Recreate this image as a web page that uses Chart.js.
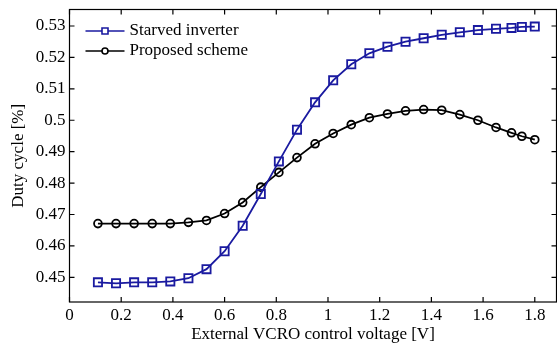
<!DOCTYPE html>
<html lang="en">
<head>
<meta charset="UTF-8">
<title>Duty cycle vs VCRO control voltage</title>
<script src="https://cdn.jsdelivr.net/npm/chart.js"></script>
<style>
  html, body { margin: 0; padding: 0; background: #fff; }
  #wrap { width: 557px; height: 346px; }
</style>
</head>
<body>
<div id="wrap"><canvas id="myChart" width="557" height="346"></canvas></div>
<script>
    // control voltage [V]
    var xVals = [0.11, 0.18, 0.25, 0.32, 0.39, 0.46, 0.53, 0.60, 0.67, 0.74, 0.81, 0.88, 0.95,
                 1.02, 1.09, 1.16, 1.23, 1.30, 1.37, 1.44, 1.51, 1.58, 1.65, 1.71, 1.75, 1.80];

    var starved = [0.4484, 0.4481, 0.4484, 0.4484, 0.4487, 0.4497, 0.4526, 0.4583, 0.4664, 0.4765,
                   0.4869, 0.4970, 0.5057, 0.5127, 0.5178, 0.5213, 0.5234, 0.5250, 0.5261, 0.5272,
                   0.5280, 0.5287, 0.5291, 0.5294, 0.5297, 0.5298];

    var proposed = [0.4671, 0.4671, 0.4671, 0.4671, 0.4671, 0.4675, 0.4681, 0.4703, 0.4738, 0.4787,
                    0.4834, 0.4881, 0.4925, 0.4958, 0.4986, 0.5008, 0.5020, 0.5030, 0.5034, 0.5032,
                    0.5018, 0.5000, 0.4977, 0.4960, 0.4949, 0.4938];

    var seriesNames = ['Starved inverter', 'Proposed scheme'];

    var BLUE = '#1a1aa0';
    var FONT = "'Liberation Serif', 'Times New Roman', serif";

    function pts(ys) {
        return xVals.map(function (x, i) { return { x: x, y: ys[i] }; });
    }

    function fmt(v) {
        return String(Number(v.toFixed(2)));
    }

    // box round the plot with inward ticks on all four sides, plus the legend
    const frame = {
        id: 'frame',
        afterDraw(chart) {
            const ctx = chart.ctx;
            const a = chart.chartArea;
            const xs = chart.scales.x, ys = chart.scales.y;
            const tl = 5;
            ctx.save();
            ctx.strokeStyle = '#000';
            ctx.lineWidth = 1.2;
            ctx.strokeRect(a.left, a.top, a.right - a.left, a.bottom - a.top);
            ctx.beginPath();
            xs.ticks.forEach(function (t) {
                const px = xs.getPixelForValue(t.value);
                ctx.moveTo(px, a.bottom); ctx.lineTo(px, a.bottom - tl);
                ctx.moveTo(px, a.top); ctx.lineTo(px, a.top + tl);
            });
            ys.ticks.forEach(function (t) {
                const py = ys.getPixelForValue(t.value);
                ctx.moveTo(a.left, py); ctx.lineTo(a.left + tl, py);
                ctx.moveTo(a.right, py); ctx.lineTo(a.right - tl, py);
            });
            ctx.stroke();

            // legend
            const lx = a.left + 16, ly = a.top + 21.5, gap = 20;
            ctx.font = '17px ' + FONT;
            ctx.textBaseline = 'middle';
            chart.data.datasets.forEach(function (ds, i) {
                const y = ly + i * gap;
                ctx.strokeStyle = ds.borderColor;
                ctx.lineWidth = 1.6;
                ctx.beginPath();
                ctx.moveTo(lx, y); ctx.lineTo(lx + 39, y);
                ctx.stroke();
                const mx = lx + 19.5;
                ctx.beginPath();
                if (ds.pointStyle === 'rect') {
                    ctx.rect(mx - 3, y - 3, 6, 6);
                } else {
                    ctx.arc(mx, y, 3, 0, Math.PI * 2);
                }
                ctx.fillStyle = '#fff';
                ctx.fill();
                ctx.stroke();
                ctx.fillStyle = '#000';
                ctx.fillText(ds.label, lx + 44, y);
            });
            ctx.restore();
        }
    };

    const data = {
        datasets: [{
            label: seriesNames[0],
            data: pts(starved),
            borderColor: BLUE,
            backgroundColor: 'rgba(0,0,0,0)',
            borderWidth: 1.8,
            pointStyle: 'rect',
            pointRadius: 5.8,
            pointBorderWidth: 1.8,
            pointBorderColor: BLUE,
            pointBackgroundColor: 'rgba(0,0,0,0)',
            tension: 0
        }, {
            label: seriesNames[1],
            data: pts(proposed),
            borderColor: '#000',
            backgroundColor: 'rgba(0,0,0,0)',
            borderWidth: 1.8,
            pointStyle: 'circle',
            pointRadius: 3.9,
            pointBorderWidth: 1.8,
            pointBorderColor: '#000',
            pointBackgroundColor: 'rgba(0,0,0,0)',
            tension: 0
        }]
    };

    Chart.defaults.color = '#000';
    Chart.defaults.font.family = FONT;
    Chart.defaults.font.size = 17;

    const config = {
        type: 'line',
        data: data,
        plugins: [frame],
        options: {
            responsive: false,
            animation: false,
            clip: false,
            layout: { autoPadding: false, padding: { top: 9.5, right: 0.5, left: 0, bottom: 0 } },
            plugins: {
                legend: { display: false },
                tooltip: { enabled: false }
            },
            scales: {
                x: {
                    type: 'linear',
                    min: 0,
                    max: 1.884,
                    grid: { display: false, drawTicks: false },
                    border: { display: false },
                    ticks: {
                        stepSize: 0.2,
                        includeBounds: false,
                        padding: 3,
                        maxRotation: 0,
                        autoSkip: false,
                        callback: function (v) { return fmt(v); }
                    },
                    title: {
                        display: true,
                        text: 'External VCRO control voltage [V]',
                        padding: { top: 0, bottom: 1 }
                    },
                    afterFit: function (s) {
                        s.height = 44;
                        s.paddingLeft = 0;
                        s.paddingRight = 0;
                    }
                },
                y: {
                    min: 0.44214,
                    max: 0.53525,
                    grid: { display: false, drawTicks: false },
                    border: { display: false },
                    ticks: {
                        stepSize: 0.01,
                        includeBounds: false,
                        padding: 4,
                        autoSkip: false,
                        callback: function (v) { return fmt(v); }
                    },
                    title: {
                        display: true,
                        text: 'Duty cycle [%]',
                        padding: { top: 8, bottom: 0 }
                    },
                    afterFit: function (s) {
                        s.width = 69.5;
                        s.paddingTop = 0;
                        s.paddingBottom = 0;
                    }
                }
            }
        }
    };

    const myChart = new Chart(document.getElementById('myChart'), config);
</script>
</body>
</html>
